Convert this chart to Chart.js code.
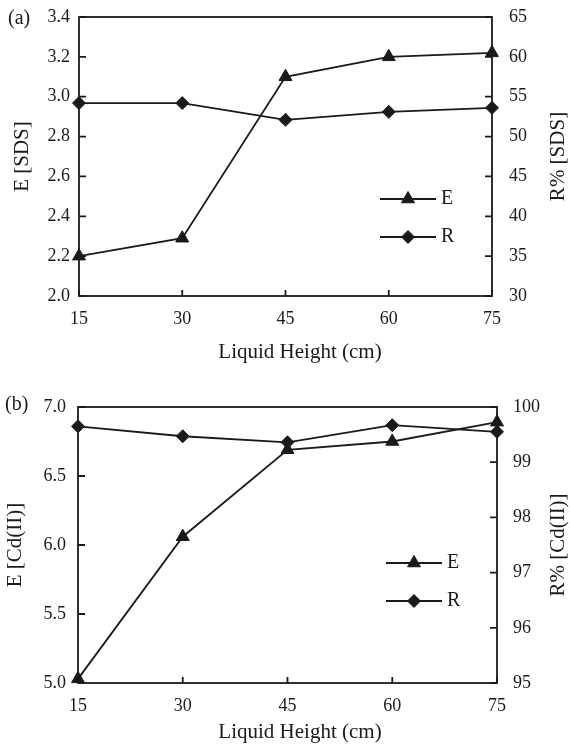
<!DOCTYPE html>
<html>
<head>
<meta charset="utf-8">
<style>
  body { margin: 0; background: #fff; width: 570px; height: 746px; position: relative; overflow: hidden; }
  canvas { position: absolute; left: 0; }
</style>
</head>
<body>
<canvas id="chartA" width="570" height="380" style="top:0"></canvas>
<canvas id="chartB" width="570" height="366" style="top:380px"></canvas>

<script src="https://cdn.jsdelivr.net/npm/chart.js"></script>
<script>
  // liquid height (cm), shared by both panels
  const heights = [15, 30, 45, 60, 75];

  // panel (a): SDS
  const eSDS = [2.20, 2.29, 3.10, 3.20, 3.22];
  const rSDS = [54.2, 54.2, 52.1, 53.1, 53.6];

  // panel (b): Cd(II)
  const eCd = [5.03, 6.06, 6.69, 6.75, 6.89];
  const rCd = [99.65, 99.47, 99.36, 99.67, 99.55];

  const serif = '"Liberation Serif", "Times New Roman", serif';
  const ink = '#1a1a1a';

  // box round the plot, inward tick marks, panel tag, titles and the inset legend
  const framePlugin = {
    id: 'frame',
    beforeDatasetsDraw(chart) {
      const { ctx, chartArea: a, scales } = chart;
      ctx.save();
      ctx.strokeStyle = ink;
      ctx.lineWidth = 1.8;
      ctx.strokeRect(a.left, a.top, a.right - a.left, a.bottom - a.top);
      ctx.beginPath();
      scales.x.ticks.forEach(t => {
        const px = scales.x.getPixelForValue(t.value);
        ctx.moveTo(px, a.bottom);
        ctx.lineTo(px, a.bottom - 6);
      });
      scales.yL.ticks.forEach(t => {
        const py = scales.yL.getPixelForValue(t.value);
        ctx.moveTo(a.left, py);
        ctx.lineTo(a.left + 7, py);
      });
      scales.yR.ticks.forEach(t => {
        const py = scales.yR.getPixelForValue(t.value);
        ctx.moveTo(a.right, py);
        ctx.lineTo(a.right - 7, py);
      });
      ctx.stroke();
      ctx.restore();
    },
    afterDatasetsDraw(chart, args, opts) {
      const { ctx, chartArea: a } = chart;
      ctx.save();
      ctx.fillStyle = ink;
      ctx.font = '20px ' + serif;
      ctx.textBaseline = 'middle';
      ctx.textAlign = 'left';
      ctx.fillText(opts.tag, opts.tagX, opts.tagY);

      // x title (sits a little right of centre in the original)
      ctx.textAlign = 'center';
      ctx.font = '21px ' + serif;
      ctx.fillText('Liquid Height (cm)', opts.xTitleX, opts.xTitleY);

      // right-hand title reads bottom to top
      ctx.save();
      ctx.translate(opts.rTitleX, (a.top + a.bottom) / 2);
      ctx.rotate(-Math.PI / 2);
      ctx.fillText(opts.rTitle, 0, 0);
      ctx.restore();

      ctx.textAlign = 'left';
      chart.data.datasets.forEach((ds, i) => {
        const y = opts.legendY[i];
        const mid = (opts.legendX0 + opts.legendX1) / 2;
        ctx.strokeStyle = ink;
        ctx.lineWidth = 1.8;
        ctx.beginPath();
        ctx.moveTo(opts.legendX0, y);
        ctx.lineTo(opts.legendX1, y);
        ctx.stroke();
        ctx.fillStyle = ink;
        ctx.lineWidth = 1;
        Chart.helpers.drawPoint(ctx, {
          pointStyle: ds.pointStyle, radius: ds.pointRadius, rotation: 0, borderWidth: 1
        }, mid, y);
        ctx.fillStyle = ink;
        ctx.font = '20px ' + serif;
        ctx.fillText(ds.label, opts.legendX1 + 5, y);
      });
      ctx.restore();
    }
  };

  function toPoints(xs, ys) {
    return xs.map((x, i) => ({ x: x, y: ys[i] }));
  }

  function makePanel(id, p) {
    new Chart(document.getElementById(id), {
      type: 'line',
      data: {
        datasets: [{
          label: 'E',
          data: toPoints(heights, p.e),
          yAxisID: 'yL',
          borderColor: ink,
          backgroundColor: ink,
          borderWidth: 1.8,
          pointStyle: 'triangle',
          pointRadius: 7.5,
          pointBorderWidth: 1,
          tension: 0
        }, {
          label: 'R',
          data: toPoints(heights, p.r),
          yAxisID: 'yR',
          borderColor: ink,
          backgroundColor: ink,
          borderWidth: 1.8,
          pointStyle: 'rectRot',
          pointRadius: 6.5,
          pointBorderWidth: 1,
          tension: 0
        }]
      },
      options: {
        responsive: false,
        animation: false,
        clip: false,
        layout: { padding: { top: p.top, left: 0, right: 0, bottom: 0 } },
        plugins: {
          legend: { display: false },
          tooltip: { enabled: false },
          frame: p.frame
        },
        scales: {
          x: {
            type: 'linear',
            min: 15, max: 75,
            grid: { display: false, drawTicks: false },
            border: { display: false },
            ticks: { stepSize: 15, padding: 12, color: ink, font: { family: serif, size: 18 } },
            afterFit(s) { s.height = p.xHeight; s.paddingLeft = 0; s.paddingRight = 0; }
          },
          yL: {
            position: 'left',
            min: p.yL.min, max: p.yL.max,
            grid: { display: false, drawTicks: false },
            border: { display: false },
            ticks: {
              stepSize: p.yL.step, padding: p.yL.pad, color: ink,
              font: { family: serif, size: 18 },
              callback: v => v.toFixed(1)
            },
            title: {
              display: true, text: p.yL.title, color: ink,
              font: { family: serif, size: 21 }, padding: { top: p.yL.titlePad, bottom: 0 }
            },
            afterFit(s) { s.width = p.yL.width; s.paddingTop = 0; s.paddingBottom = 0; }
          },
          yR: {
            position: 'right',
            min: p.yR.min, max: p.yR.max,
            grid: { display: false, drawTicks: false },
            border: { display: false },
            ticks: { stepSize: p.yR.step, padding: p.yR.pad, color: ink, font: { family: serif, size: 18 } },
            afterFit(s) { s.width = p.yR.width; s.paddingTop = 0; s.paddingBottom = 0; }
          }
        }
      },
      plugins: [framePlugin]
    });
  }

  makePanel('chartA', {
    e: eSDS, r: rSDS,
    top: 17, xHeight: 84,
    yL: { min: 2.0, max: 3.4, step: 0.2, pad: 9, width: 79, title: 'E [SDS]', titlePad: 10 },
    yR: { min: 30, max: 65, step: 5, pad: 17, width: 78 },
    frame: {
      tag: '(a)', tagX: 8, tagY: 19, xTitleX: 300, xTitleY: 352, rTitleX: 558, rTitle: 'R% [SDS]',
      legendX0: 380, legendX1: 436, legendY: [199, 237]
    }
  });

  makePanel('chartB', {
    e: eCd, r: rCd,
    top: 27, xHeight: 63,
    yL: { min: 5.0, max: 7.0, step: 0.5, pad: 12, width: 78, title: 'E [Cd(II)]', titlePad: 3 },
    yR: { min: 95, max: 100, step: 1, pad: 16, width: 73 },
    frame: {
      tag: '(b)', tagX: 5, tagY: 25, xTitleX: 300, xTitleY: 352, rTitleX: 558, rTitle: 'R% [Cd(II)]',
      legendX0: 386, legendX1: 442, legendY: [183, 221]
    }
  });
</script>
</body>
</html>
